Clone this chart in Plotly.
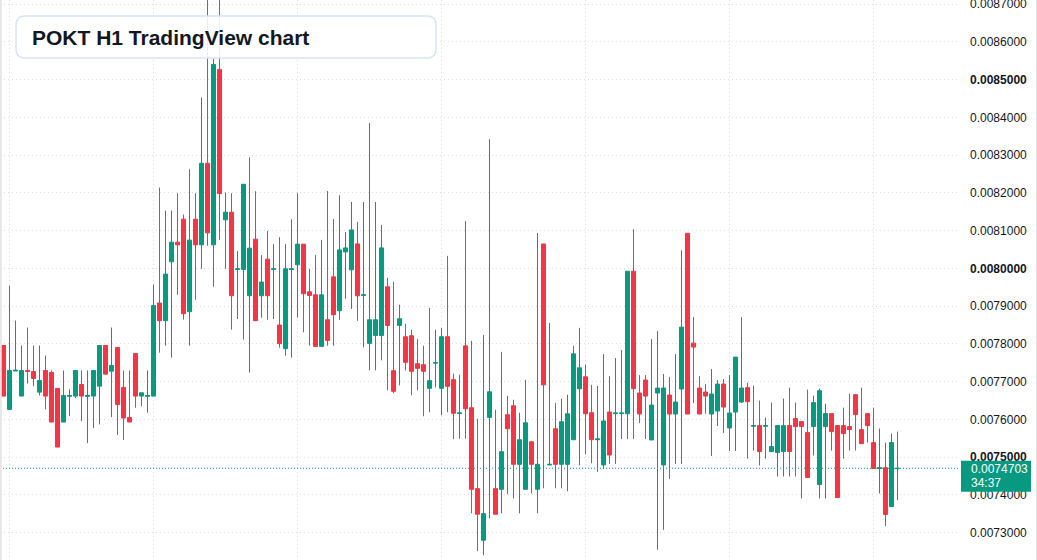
import plotly.graph_objects as go

# ---- data (prices, POKT H1) ----
opens = [77.956, 76.263, 77.28, 76.616, 77.295, 77.268, 76.721, 77.295, 77.242, 76.818,
         75.928, 76.61, 76.616, 76.924, 76.61, 76.616, 76.880, 77.956, 77.277, 77.903,
         76.845, 76.051, 77.744, 76.616, 76.61, 76.616, 79.081, 78.614, 80.175, 80.695,
         81.303, 78.852, 81.303, 80.624, 82.785, 80.624, 85.272, 81.286, 81.489, 79.97,
         79.972, 79.275, 80.774, 79.275, 80.245, 79.97, 78.499, 77.873, 79.97, 80.095,
         80.642, 79.379, 79.300, 77.933, 78.638, 79.776, 78.877, 80.437, 79.961, 80.649,
         79.28, 78.012, 78.224, 78.224, 79.511, 77.289, 78.489, 78.189, 78.215, 77.474,
         77.448, 76.822, 77.49, 76.822, 78.189, 77.051, 76.157, 77.947, 76.307, 74.164,
         72.797, 76.051, 74.164, 74.146, 76.122, 76.360, 74.808, 74.146, 75.407, 74.146,
         80.646, 74.79, 75.751, 74.808, 74.808, 75.460, 76.810, 77.127, 76.175, 75.46,
         74.792, 76.194, 76.15, 76.15, 76.15, 79.924, 76.697, 77.041, 75.453, 76.697,
         74.792, 76.644, 76.141, 76.802, 80.929, 78.019, 76.829, 76.723, 76.141, 76.220,
         76.935, 75.771, 76.194, 76.459, 76.840, 75.817, 75.834, 75.817, 75.146, 75.120,
         75.146, 75.834, 76.019, 75.940, 75.649, 75.808, 74.273, 75.808, 76.152, 75.834,
         75.834, 75.808, 76.654, 75.728, 76.152, 75.384, 74.70, 74.72, 73.691, 74.695]
highs = [77.956, 79.543, 78.617, 77.956, 78.432, 77.956, 77.956, 77.691, 77.295, 76.818,
         77.295, 76.792, 77.295, 77.295, 77.295, 77.295, 77.956, 77.956, 78.432, 77.903,
         77.295, 77.295, 77.744, 76.704, 77.295, 79.570, 82.141, 81.533, 81.533, 81.991,
         81.427, 82.626, 81.991, 84.531, 87.6, 85.554, 87.6, 82.009, 81.991, 80.457,
         82.229, 82.944, 82.044, 80.351, 80.995, 80.642, 80.827, 80.642, 81.303, 81.991,
         80.642, 79.988, 80.358, 80.755, 82.051, 81.310, 81.937, 80.966, 81.760, 81.231,
         81.760, 83.850, 81.760, 81.152, 79.750, 79.644, 79.035, 78.533, 78.374, 78.136,
         77.951, 78.956, 78.374, 78.427, 80.332, 77.210, 77.180, 81.254, 78.079, 76.016,
         78.238, 83.423, 76.254, 77.788, 76.624, 76.519, 76.175, 77.048, 75.407, 80.937,
         80.646, 78.556, 76.439, 76.545, 76.651, 77.947, 78.423, 77.444, 76.915, 76.882,
         77.728, 77.146, 77.623, 77.834, 79.924, 81.035, 77.173, 77.173, 78.125, 78.337,
         77.199, 77.120, 77.728, 80.480, 80.929, 78.707, 77.146, 76.935, 77.332, 77.041,
         77.067, 77.173, 77.649, 78.707, 76.972, 76.892, 76.496, 76.046, 76.443, 75.834,
         76.549, 76.840, 76.443, 75.940, 76.787, 76.628, 76.813, 76.416, 76.152, 75.834,
         76.310, 76.681, 76.654, 76.840, 76.152, 76.310, 75.755, 75.384, 75.623, 75.675]
lows = [76.616, 76.263, 77.28, 76.616, 76.951, 76.880, 76.633, 76.263, 75.928, 75.266,
        75.928, 76.086, 76.563, 75.954, 75.372, 75.769, 75.866, 77.198, 76.060, 75.584,
        75.451, 75.928, 76.307, 76.351, 76.175, 76.616, 77.767, 77.952, 77.635, 79.302,
        78.640, 77.952, 79.169, 79.989, 80.598, 79.513, 80.757, 79.989, 78.376, 78.658,
        78.111, 77.238, 78.614, 78.693, 78.640, 78.658, 77.899, 77.688, 77.635, 78.693,
        78.305, 77.951, 77.933, 77.933, 77.951, 77.951, 78.638, 79.194, 78.929, 78.612,
        77.907, 77.298, 77.298, 77.563, 76.769, 76.690, 76.901, 77.298, 76.637, 76.769,
        76.081, 76.187, 76.848, 76.108, 76.187, 75.473, 75.487, 75.487, 73.511, 72.506,
        72.400, 73.379, 73.485, 73.511, 74.014, 73.908, 73.511, 74.146, 74.041, 73.511,
        74.173, 74.79, 74.173, 74.173, 74.093, 75.460, 74.781, 75.072, 74.834, 74.607,
        74.686, 74.818, 74.818, 75.480, 75.480, 75.480, 75.903, 75.480, 75.453, 72.543,
        73.072, 74.422, 74.818, 74.818, 76.141, 76.432, 76.141, 76.15, 75.030, 75.824,
        75.638, 75.162, 75.162, 76.432, 74.961, 75.173, 74.776, 74.961, 75.146, 74.485,
        74.485, 74.485, 74.485, 73.903, 74.459, 75.041, 73.903, 73.903, 75.173, 73.929,
        74.961, 75.173, 75.173, 75.358, 75.384, 74.697, 74.035, 73.17, 73.691, 73.860]
closes = [76.616, 77.295, 77.30, 77.295, 77.27, 77.083, 77.030, 76.616, 75.928, 75.266,
          76.633, 76.633, 77.295, 76.616, 76.633, 77.295, 77.956, 77.198, 77.427, 76.395,
          76.034, 75.928, 76.616, 76.704, 76.633, 79.014, 78.614, 79.848, 80.695, 80.624,
          78.799, 80.748, 80.624, 82.785, 80.942, 85.404, 81.982, 81.489, 79.275, 79.989,
          82.229, 80.536, 78.614, 79.637, 79.275, 79.989, 78.005, 79.989, 79.989, 80.642,
          79.328, 79.282, 77.933, 79.300, 78.092, 78.771, 80.490, 80.543, 81.019, 79.273,
          79.30, 78.638, 78.638, 80.543, 78.489, 76.743, 78.665, 77.510, 77.272, 77.351,
          77.272, 77.025, 77.50, 78.189, 76.875, 76.160, 76.17, 76.280, 74.146, 73.485,
          73.503, 76.730, 73.485, 75.143, 75.751, 74.808, 75.460, 75.910, 74.808, 74.808,
          76.915, 74.808, 74.808, 75.937, 76.148, 77.735, 77.365, 76.148, 75.460, 75.48,
          75.956, 75.056, 76.168, 76.168, 79.924, 76.811, 76.141, 76.617, 76.379, 76.829,
          76.829, 76.141, 76.459, 78.443, 76.141, 77.914, 76.141, 76.617, 76.670, 76.935,
          76.326, 76.168, 77.649, 76.829, 76.469, 75.834, 75.146, 75.834, 75.279, 75.834,
          75.834, 75.146, 75.808, 75.808, 74.459, 76.443, 76.760, 76.152, 75.675, 73.929,
          75.623, 75.728, 76.125, 75.358, 75.834, 74.697, 74.72, 73.48, 75.384, 74.703]

SCALE = 1e-4
opens = [round(v * SCALE, 9) for v in opens]
highs = [round(v * SCALE, 9) for v in highs]
lows = [round(v * SCALE, 9) for v in lows]
closes = [round(v * SCALE, 9) for v in closes]
bars = list(range(len(opens)))

tick_vals = [0.0073, 0.0074, 0.0075, 0.0076, 0.0077, 0.0078, 0.0079, 0.0080,
             0.0081, 0.0082, 0.0083, 0.0084, 0.0085, 0.0086, 0.0087]
bold_ticks = [0.0075, 0.0080, 0.0085]
tick_text = [("<b>%.7f</b>" % v) if any(abs(v - b) < 1e-9 for b in bold_ticks) else "%.7f" % v
             for v in tick_vals]
day_bars = [1, 25, 49, 73, 97, 121, 145]

last_price = 0.0074703
last_label = "0.0074703"
countdown = "34:37"
title_text = "POKT H1 TradingView chart"

UP = "#089981"
DOWN = "#F23645"
W, H = 1037, 560
R_MARGIN = 79
PW = W - R_MARGIN


def px(x):
    return x / PW


def py(y):
    return 1 - y / H


fig = go.Figure()
fig.add_trace(go.Candlestick(
    x=bars, open=opens, high=highs, low=lows, close=closes,
    increasing=dict(line=dict(color=UP, width=1), fillcolor=UP),
    decreasing=dict(line=dict(color=DOWN, width=1), fillcolor=DOWN),
    whiskerwidth=0, showlegend=False, hoverinfo="skip",
))

# rounded title box (pixel geometry)
x0, x1, y0, y1, r = 16, 436, 16, 58, 9
path = (f"M {px(x0 + r)},{py(y0)} L {px(x1 - r)},{py(y0)} Q {px(x1)},{py(y0)} {px(x1)},{py(y0 + r)} "
        f"L {px(x1)},{py(y1 - r)} Q {px(x1)},{py(y1)} {px(x1 - r)},{py(y1)} "
        f"L {px(x0 + r)},{py(y1)} Q {px(x0)},{py(y1)} {px(x0)},{py(y1 - r)} "
        f"L {px(x0)},{py(y0 + r)} Q {px(x0)},{py(y0)} {px(x0 + r)},{py(y0)} Z")

shapes = [
    dict(type="line", xref="paper", yref="y", x0=0, x1=1, y0=last_price, y1=last_price,
         line=dict(color=UP, width=1, dash="1px,2px"), layer="above"),
    dict(type="path", xref="paper", yref="paper", path=path,
         fillcolor="rgba(255,255,255,0.88)", line=dict(color="#d7e3f7", width=1.5), layer="above"),
    dict(type="rect", xref="paper", yref="y", x0=px(961), x1=px(1031),
         ysizemode="pixel", yanchor=last_price, y0=-23.5, y1=7.5,
         fillcolor=UP, line=dict(width=0), layer="above"),
    dict(type="line", xref="paper", yref="paper", x0=px(0.8), x1=px(0.8), y0=0, y1=1,
         line=dict(color="#e6e6e6", width=2), layer="above"),
    dict(type="line", xref="paper", yref="paper", x0=px(1036.5), x1=px(1036.5), y0=0, y1=1,
         line=dict(color="#e3e3e3", width=1), layer="above"),
]

annotations = [
    dict(xref="paper", yref="paper", x=px(30), y=py(37.5), xanchor="left", yanchor="middle",
         text=f"<b>{title_text}</b>", showarrow=False,
         font=dict(family="Liberation Sans, Arial, sans-serif", size=21, color="#131722")),
    dict(xref="paper", yref="y", x=px(969), y=last_price, yshift=-1, xanchor="left", yanchor="middle",
         text=last_label, showarrow=False,
         font=dict(family="Liberation Sans, Arial, sans-serif", size=12, color="#ffffff")),
    dict(xref="paper", yref="y", x=px(969), y=last_price, yshift=-15, xanchor="left", yanchor="middle",
         text=countdown, showarrow=False,
         font=dict(family="Liberation Sans, Arial, sans-serif", size=12, color="#ffffff")),
]

fig.update_layout(
    width=W, height=H,
    margin=dict(l=0, r=R_MARGIN, t=0, b=0, autoexpand=False),
    paper_bgcolor="white", plot_bgcolor="white",
    boxgap=0.18, boxgroupgap=0.18,
    shapes=shapes, annotations=annotations,
    showlegend=False,
    font=dict(family="Liberation Sans, Arial, sans-serif"),
    xaxis=dict(range=[-3.5 / 6, -3.5 / 6 + PW / 6], rangeslider=dict(visible=False),
               tickvals=day_bars, showticklabels=False, ticks="", automargin=False,
               showgrid=True, gridcolor="#d9dce2", griddash="1px,3px", gridwidth=1,
               zeroline=False, showline=False, fixedrange=True),
    yaxis=dict(range=[0.00722730, 0.00871110], side="right", automargin=False,
               tickvals=tick_vals, ticktext=tick_text, ticks="",
               ticklabelstandoff=11, ticklabeloverflow="allow",
               tickfont=dict(family="Liberation Sans, Arial, sans-serif", size=12, color="#131722"),
               showgrid=True, gridcolor="#d9dce2", griddash="1px,3px", gridwidth=1,
               zeroline=False, showline=False, fixedrange=True),
)

fig.write_html("out.html")
